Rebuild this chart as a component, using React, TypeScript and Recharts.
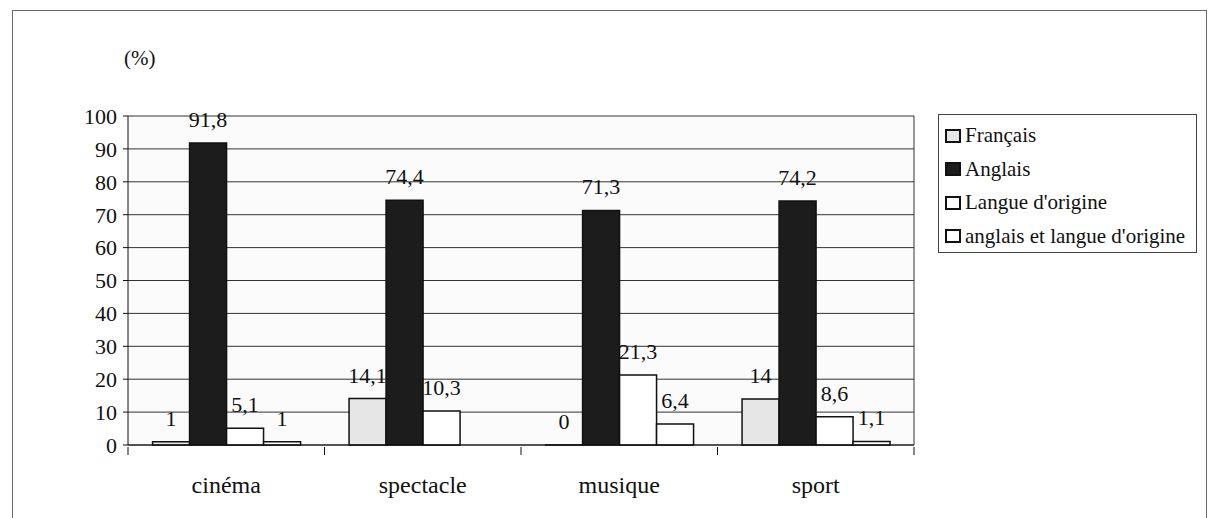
import { Bar, BarChart, CartesianGrid, LabelList, Legend, XAxis, YAxis } from "recharts";

const FONT = "'Liberation Serif', 'Times New Roman', serif";

const categories = ["cinéma", "spectacle", "musique", "sport"];
const francais = [1, 14.1, 0, 14];
const anglais = [91.8, 74.4, 71.3, 74.2];
const langueOrigine = [5.1, 10.3, 21.3, 8.6];
const anglaisEtLangue: (number | null)[] = [1, null, 6.4, 1.1];
const yTicks = [0, 10, 20, 30, 40, 50, 60, 70, 80, 90, 100];

const series = [
  { key: "francais", name: "Français", fill: "#e6e6e6" },
  { key: "anglais", name: "Anglais", fill: "#1c1c1c" },
  { key: "langue", name: "Langue d'origine", fill: "#ffffff" },
  { key: "mixte", name: "anglais et langue d'origine", fill: "#ffffff" },
];

const rows = categories.map((name, i) => ({
  name,
  francais: francais[i],
  anglais: anglais[i],
  langue: langueOrigine[i],
  mixte: anglaisEtLangue[i],
}));

const fmt = (v: unknown) => (v == null ? "" : String(v).replace(".", ","));

// value printed above each bar, including the zero-height ones
function ValueLabel(props: any) {
  const { x, y, width, value } = props;
  if (value == null || x == null) return null;
  return (
    <text x={x + width / 2} y={y - 16} textAnchor="middle" fill="#111" fontSize={22} fontFamily={FONT}>
      {fmt(value)}
    </text>
  );
}

function CategoryTick(props: any) {
  const { x, y, payload, index, visibleTicksCount } = props;
  const half = payload?.offset ?? 0;
  const last = index === visibleTicksCount - 1;
  return (
    <g>
      <line x1={x - half} x2={x - half} y1={y} y2={y + 8} stroke="#111" />
      {last && <line x1={x + half} x2={x + half} y1={y} y2={y + 8} stroke="#111" />}
      <text x={x} y={y + 46} textAnchor="middle" fill="#111" fontSize={24} fontFamily={FONT}>
        {payload.value}
      </text>
    </g>
  );
}

function LegendBox() {
  return (
    <div
      style={{
        border: "1px solid #444",
        background: "#fff",
        boxSizing: "border-box",
        width: "100%",
        height: "100%",
        padding: "4px 0 0 6px",
        fontFamily: FONT,
        fontSize: 21,
        color: "#111",
      }}
    >
      {series.map((s) => (
        <div key={s.key} style={{ display: "flex", alignItems: "center", height: 33.5 }}>
          <span
            style={{
              display: "inline-block",
              width: 12,
              height: 10,
              border: "2px solid #111",
              background: s.fill,
              marginRight: 4,
            }}
          />
          <span>{s.name}</span>
        </div>
      ))}
    </div>
  );
}

export default function App() {
  return (
    <div style={{ position: "absolute", left: 0, top: 0, width: 1216, height: 518, overflow: "hidden", background: "#fff" }}>
      <div
        style={{
          position: "absolute",
          left: 12,
          top: 10,
          width: 1195,
          height: 560,
          border: "1px solid #666",
          boxSizing: "border-box",
        }}
      />
      <div style={{ position: "absolute", left: 124, top: 46, fontFamily: FONT, fontSize: 21, color: "#111" }}>(%)</div>
      <BarChart
        width={1216}
        height={518}
        data={rows}
        margin={{ top: 116, right: 302, bottom: 0, left: 68 }}
        barCategoryGap="12.5%"
        barGap={0}
      >
        <CartesianGrid
          stroke="#333"
          fill="#fbfbfb"
          verticalCoordinatesGenerator={({ offset }: any) => [offset.left + offset.width]}
        />
        <XAxis
          dataKey="name"
          interval={0}
          height={73}
          tickLine={false}
          tickSize={0}
          axisLine={{ stroke: "#111" }}
          tick={<CategoryTick />}
        />
        <YAxis
          domain={[0, 100]}
          ticks={yTicks}
          interval={0}
          width={60}
          axisLine={{ stroke: "#111" }}
          tickLine={{ stroke: "#111" }}
          tickSize={5}
          tickMargin={6}
          tick={{ fill: "#111", fontSize: 22, fontFamily: FONT }}
        />
        <Legend
          layout="horizontal"
          verticalAlign="middle"
          align="center"
          wrapperStyle={{ left: 938, top: 114, width: 259, height: 139 }}
          content={() => <LegendBox />}
        />
        {series.map((s) => (
          <Bar
            key={s.key}
            dataKey={s.key}
            name={s.name}
            fill={s.fill}
            stroke="#111"
            strokeWidth={1.5}
            minPointSize={(v: any) => (v === 0 ? 0.01 : 0)}
            isAnimationActive={false}
          >
            <LabelList dataKey={s.key} content={<ValueLabel />} />
          </Bar>
        ))}
      </BarChart>
    </div>
  );
}
